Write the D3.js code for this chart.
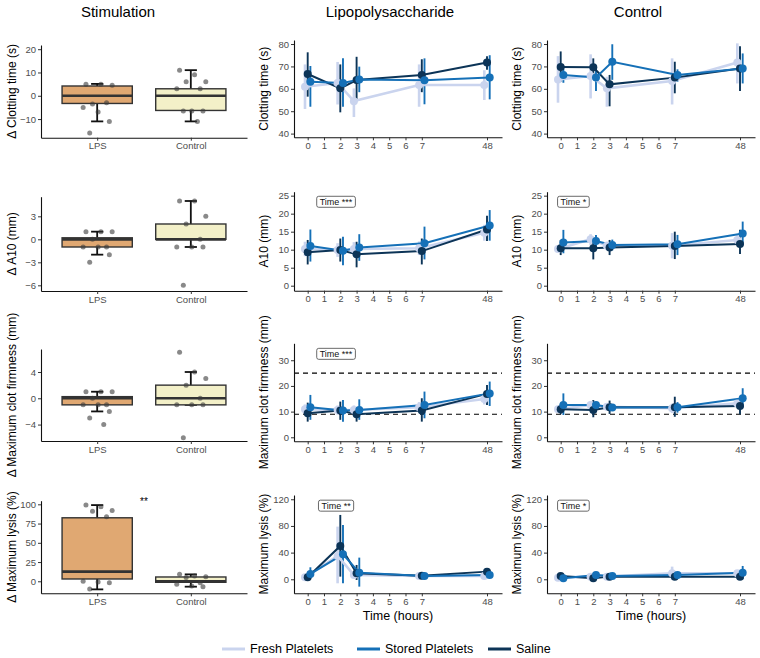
<!DOCTYPE html>
<html><head><meta charset="utf-8">
<script src="https://cdn.jsdelivr.net/npm/d3@7"></script>
<style>body{margin:0;background:#fff;} text{font-family:"Liberation Sans",Arial,Helvetica,sans-serif;}</style>
</head><body><svg id="c" width="760" height="658"></svg>
<script>
// ---------------- DATA ----------------
const columnTitles = ["Stimulation", "Lipopolysaccharide", "Control"];
const groups = ["Fresh Platelets", "Stored Platelets", "Saline"];
const groupColors = ["#cad4ee", "#1570b7", "#0c3457"];
const times = [0, 2, 3, 7, 48];
const timeTicks = [0, 1, 2, 3, 4, 5, 6, 7, 48];
const boxCategories = ["LPS", "Control"];
const boxFills = ["#e0a872", "#f3f0c8"];

const boxYTitles = ["\u0394 Clotting time (s)", "\u0394 A10 (mm)", "\u0394 Maximum clot firmness (mm)", "\u0394 Maximum lysis (%)"];
const lineYTitles = ["Clotting time (s)", "A10 (mm)", "Maximum clot firmness (mm)", "Maximum lysis (%)"];
const boxYTicks = [[-10, 0, 10, 20], [-6, -3, 0, 3], [-4, 0, 4], [0, 25, 50, 75, 100]];
const lineYTicks = [[40, 50, 60, 70, 80], [0, 5, 10, 15, 20, 25], [0, 10, 20, 30], [0, 40, 80, 120]];
const boxYDomains = [[-18, 21.8], [-6.74, 5.56], [-6.5, 7.5], [-15.6, 104.7]];
const lineYDomains = [[38.35, 81.8], [-1.39, 26.1], [-1.56, 36.6], [-21, 126.4]];

// box stats: [lower whisker, q1, median, q3, upper whisker] for LPS, Control
const boxStatsClot = [[-11, -3.3, 0, 4.2, 5.1], [-11, -6.3, 0, 3, 11]];
const boxStatsA10 = [[-2, -1, 0, 0.2, 1], [-1, 0, 0, 2, 5]];
const boxStatsMCF = [[-2, -1, 0, 0.25, 1], [-1, -1, 0, 2, 4]];
const boxStatsLysis = [[-10.5, 3, 12.5, 82.5, 99], [-7, -1.3, 0, 5.6, 9]];
const boxPointsClot = [[5, 5, 4.5, -3.5, -3, -5, -7, -11, -16], [11, 9, 6, 6, 3, 3, -6.5, -6.5, -6.5, -11]];
const boxPointsA10 = [[1, 1, 1, 0, -1, -1, -1, -2, -3], [5, 5, 3, 2, 0, -1, -1, -1, -6]];
const boxPointsMCF = [[1, 1, 1, 0, -1, -1, -1, -2, -3, -4], [7, 4, 3, 2, 0, -1, -1, -1, -6]];
const boxPointsLysis = [[99, 97, 92, 91, 84, 0, -1, -2, -10], [9, 7, 6, 5, -2, -4, -6, -7]];
const boxSignif = ["", "", "", "**"];

// line panels: rows = [Fresh, Stored, Saline], columns = times
const clotLPSMean = [[60.9, 62.6, 54.5, 61.7, 61.7], [63.2, 62.6, 64.2, 63.8, 65.1], [66.6, 60.2, 63.9, 66.2, 71.8]];
const clotLPSLow = [[51, 53, 47.4, 52, 55], [52, 52, 58.5, 53.1, 55.3], [56.5, 49.5, 55.3, 58.5, 68.5]];
const clotLPSHigh = [[70.9, 72, 60.2, 70.9, 68.3], [70.2, 73.6, 69.9, 73.6, 75], [76.3, 70.9, 74.3, 73.2, 74.5]];
const clotCtlMean = [[64.2, 65.7, 60.2, 63.5, 71.7], [66.2, 65.1, 72.1, 66.2, 69.1], [69.7, 69.6, 62, 65, 69.1]];
const clotCtlLow = [[53.8, 55.7, 52, 53, 62.4], [62.7, 59, 64, 63.2, 62.4], [63.2, 65.4, 52.2, 58, 59]];
const clotCtlHigh = [[74.6, 75.4, 65.4, 73.6, 80.3], [69, 70, 79.9, 68.7, 75.8], [76.7, 73.6, 66.2, 72.1, 79]];

const a10LPSMean = [[10.2, 9.9, 10.2, 10.4, 14.7], [11, 9.7, 10.6, 11.8, 16.7], [9.3, 9.9, 8.7, 9.6, 15.6]];
const a10LPSLow = [[8.2, 8, 8.3, 8.5, 12.5], [6.7, 5.7, 6.9, 7.3, 12.5], [5.9, 6.7, 5.1, 5.9, 12.4]];
const a10LPSHigh = [[12.2, 11.8, 12.1, 12.3, 16.9], [15.6, 13.6, 14.3, 16.4, 21], [12.7, 13.1, 12.2, 13.1, 19.4]];
const a10CtlMean = [[10.2, 12.9, 11.1, 11.1, 12.7], [12, 12.4, 11.3, 11.5, 14.5], [10.4, 10.4, 10.6, 11, 11.6]];
const a10CtlLow = [[9.2, 11.2, 10, 7.6, 11.5], [9, 10.8, 9.8, 8.5, 11.3], [8.5, 7.3, 8.5, 7.4, 8.8]];
const a10CtlHigh = [[11.2, 14.3, 12.2, 14.6, 14], [15.5, 14.1, 12.8, 14.1, 17.8], [12.7, 13.4, 12.7, 15, 15.5]];

const mcfLPSMean = [[10.9, 10.6, 10.6, 11.7, 14.9], [11.7, 10.4, 10.6, 12.6, 17.1], [9.4, 10.4, 9, 10.4, 16.9]];
const mcfLPSLow = [[9, 8.8, 8.8, 9.7, 12.8], [6.8, 6.1, 6.8, 7.4, 12.2], [6.1, 6.8, 6.1, 6.1, 12.6]];
const mcfLPSHigh = [[12.8, 12.4, 12.4, 13.7, 17], [16.5, 14.5, 14.8, 17.8, 21.7], [13.5, 13.9, 11.6, 15.2, 20.4]];
const mcfCtlMean = [[10.9, 12.6, 11.9, 11.3, 13.2], [12.6, 12.6, 11.6, 11.7, 15.2], [10.9, 10.6, 11.7, 11.7, 12.2]];
const mcfCtlLow = [[9.8, 11.2, 10.7, 9.5, 12], [8.7, 11.6, 10.4, 9.6, 11.7], [9, 7.8, 9.1, 8, 9]];
const mcfCtlHigh = [[12, 14, 13.1, 13.1, 14.4], [17.1, 13.6, 12.8, 13.7, 19.1], [12.9, 14.5, 14.3, 15.8, 14.5]];
const mcfRefLines = [9, 25];

const lysLPSMean = [[3, 35, 6.5, 5, 5], [8, 37.5, 10, 5, 6.5], [3, 50, 9, 5.5, 11.5]];
const lysLPSLow = [[0, -6, 2, 2, 2], [1.5, -6, -11, 2, 3.5], [0, 4, -1, 3, 8.5]];
const lysLPSHigh = [[6, 79, 11, 8, 8], [18, 81.5, 32.5, 8, 9.5], [6, 96.5, 21.5, 8, 14.5]];
const lysCtlMean = [[2.5, 4, 4, 9, 9], [1.5, 6.5, 5, 6.5, 10], [5, 1.5, 4, 4, 4]];
const lysCtlLow = [[0.5, 2, 2, -1, 5], [0, 4.5, 3, 4.5, 0], [3, 0, 2, 2, 2]];
const lysCtlHigh = [[4.5, 6, 6, 19, 13], [3, 8.5, 7, 8.5, 20], [7, 3, 6, 6, 6]];

const lpsSignif = ["", "Time ***", "Time ***", "Time **"];
const ctlSignif = ["", "Time *", "", "Time *"];

// ---------------- LAYOUT ----------------
const svg = d3.select("#c");
const colFrames = [[41, 247], [294, 502], [547, 755]];
const boxRows = [[45, 137.7], [196.7, 291], [349, 441], [500.7, 593.3]];
const lineRows = [[40, 137.3], [191.7, 290.7], [343.3, 441.3], [495, 593.3]];
const yTitleX = [12, 264, 517];
const titleX = [118, 390, 638];
const jitter = [-0.12, 0.04, 0.16, -0.05, 0.1, -0.15, 0.01, 0.13, -0.08, 0.07];
const dodge = [-0.165, 0.165, 0];
const drawOrder = [0, 2, 1];
const xPos = t => (t === 48 ? 11 : t);

const boxStats = [boxStatsClot, boxStatsA10, boxStatsMCF, boxStatsLysis];
const boxPoints = [boxPointsClot, boxPointsA10, boxPointsMCF, boxPointsLysis];
const lineData = [
  [[clotLPSMean, clotLPSLow, clotLPSHigh], [clotCtlMean, clotCtlLow, clotCtlHigh]],
  [[a10LPSMean, a10LPSLow, a10LPSHigh], [a10CtlMean, a10CtlLow, a10CtlHigh]],
  [[mcfLPSMean, mcfLPSLow, mcfLPSHigh], [mcfCtlMean, mcfCtlLow, mcfCtlHigh]],
  [[lysLPSMean, lysLPSLow, lysLPSHigh], [lysCtlMean, lysCtlLow, lysCtlHigh]]
];
const signifPos = [[1.74, 0.78], [null, 23.3, 32.5, 110.4]];

function styleAxis(g) {
  g.select(".domain").attr("stroke", "#111").attr("stroke-width", 1.1);
  g.selectAll(".tick line").attr("stroke", "#333").attr("stroke-width", 1);
  g.selectAll(".tick text").attr("fill", "#4d4d4d").style("font-size", "9.5px")
    .style("font-family", '"Liberation Sans",Arial,sans-serif');
}

// column titles
columnTitles.forEach((t, i) => {
  svg.append("text").attr("x", titleX[i]).attr("y", 17).attr("text-anchor", "middle")
    .style("font-size", "15px").attr("fill", "#000").text(t);
});

function yTitle(txt, x, y0, y1) {
  svg.append("text").attr("transform", `translate(${x},${(y0 + y1) / 2}) rotate(-90)`)
    .attr("text-anchor", "middle").attr("dominant-baseline", "central")
    .style("font-size", "12px").attr("fill", "#000").text(txt);
}

// -------- box panels --------
for (let r = 0; r < 4; r++) {
  const [x0, x1] = colFrames[0];
  const [y0, y1] = boxRows[r];
  const x = d3.scaleLinear().domain([0.4, 2.6]).range([x0, x1]);
  const y = d3.scaleLinear().domain(boxYDomains[r]).range([y1, y0]);
  const g = svg.append("g");
  const bw = x(0.375) - x(0);
  const cw = x(0.065) - x(0);
  boxCategories.forEach((cat, i) => {
    const cx = x(i + 1);
    const [lo, q1, med, q3, hi] = boxStats[r][i];
    g.append("line").attr("x1", cx).attr("x2", cx).attr("y1", y(q3)).attr("y2", y(hi)).attr("stroke", "#111").attr("stroke-width", 1.8);
    g.append("line").attr("x1", cx).attr("x2", cx).attr("y1", y(q1)).attr("y2", y(lo)).attr("stroke", "#111").attr("stroke-width", 1.8);
    [lo, hi].forEach(v => g.append("line").attr("x1", cx - cw).attr("x2", cx + cw).attr("y1", y(v)).attr("y2", y(v)).attr("stroke", "#111").attr("stroke-width", 1.8));
    g.append("rect").attr("x", cx - bw).attr("width", 2 * bw).attr("y", y(q3)).attr("height", Math.max(0.5, y(q1) - y(q3)))
      .attr("fill", boxFills[i]).attr("stroke", "#333").attr("stroke-width", 1.4);
    g.append("line").attr("x1", cx - bw).attr("x2", cx + bw).attr("y1", y(med)).attr("y2", y(med)).attr("stroke", "#333").attr("stroke-width", 2.6);
    boxPoints[r][i].forEach((v, k) => {
      g.append("circle").attr("cx", x(i + 1 + jitter[k % jitter.length])).attr("cy", y(v)).attr("r", 2.5)
        .attr("fill", "#3a3a3a").attr("fill-opacity", 0.6);
    });
  });
  if (boxSignif[r]) {
    g.append("text").attr("x", x(1.5)).attr("y", y(103.4)).attr("text-anchor", "middle").attr("dominant-baseline", "central")
      .style("font-size", "10px").attr("fill", "#000").text(boxSignif[r]);
  }
  const ay = svg.append("g").attr("transform", `translate(${x0},0)`)
    .call(d3.axisLeft(y).tickValues(boxYTicks[r]).tickSize(3).tickSizeOuter(0).tickPadding(2));
  styleAxis(ay);
  const ax = svg.append("g").attr("transform", `translate(0,${y1})`)
    .call(d3.axisBottom(x).tickValues([1, 2]).tickFormat(d => boxCategories[d - 1]).tickSize(3).tickSizeOuter(0).tickPadding(2));
  styleAxis(ax);
  yTitle(boxYTitles[r], yTitleX[0], y0, y1);
}

// -------- line panels --------
for (let r = 0; r < 4; r++) {
  for (let c = 0; c < 2; c++) {
    const [x0, x1] = colFrames[c + 1];
    const [y0, y1] = lineRows[r];
    const x = d3.scaleLinear().domain([-0.84, 11.92]).range([x0, x1]);
    const y = d3.scaleLinear().domain(lineYDomains[r]).range([y1, y0]);
    const g = svg.append("g");
    const [means, lows, highs] = lineData[r][c];
    if (r === 2) {
      mcfRefLines.forEach(v => g.append("line").attr("x1", x0).attr("x2", x1).attr("y1", y(v)).attr("y2", y(v))
        .attr("stroke", "#000").attr("stroke-width", 1.1).attr("stroke-dasharray", "5,4"));
    }
    drawOrder.forEach(gi => {
      times.forEach((t, k) => {
        g.append("line").attr("x1", x(xPos(t) + dodge[gi])).attr("x2", x(xPos(t) + dodge[gi]))
          .attr("y1", y(lows[gi][k])).attr("y2", y(highs[gi][k]))
          .attr("stroke", groupColors[gi]).attr("stroke-width", gi === 0 ? 2.6 : 1.9);
      });
    });
    drawOrder.forEach(gi => {
      const ln = d3.line().x((d, k) => x(xPos(times[k]) + dodge[gi])).y(d => y(d));
      g.append("path").attr("d", ln(means[gi])).attr("fill", "none")
        .attr("stroke", groupColors[gi]).attr("stroke-width", gi === 0 ? 2.6 : 2);
    });
    drawOrder.forEach(gi => {
      times.forEach((t, k) => {
        g.append("circle").attr("cx", x(xPos(t) + dodge[gi])).attr("cy", y(means[gi][k])).attr("r", 4)
          .attr("fill", groupColors[gi]);
      });
    });
    const sig = (c === 0 ? lpsSignif : ctlSignif)[r];
    if (sig) {
      const lx = x(signifPos[0][c]), ly = y(signifPos[1][r]);
      const t = g.append("text").attr("x", lx).attr("y", ly).attr("text-anchor", "middle").attr("dominant-baseline", "central")
        .style("font-size", "9px").attr("fill", "#111").text(sig);
      const w = t.node().getComputedTextLength() + 6;
      g.insert("rect", "text").attr("x", lx - w / 2).attr("y", ly - 5.5).attr("width", w).attr("height", 11)
        .attr("rx", 2).attr("fill", "#fff").attr("stroke", "#444").attr("stroke-width", 0.8);
    }
    const ay = svg.append("g").attr("transform", `translate(${x0},0)`)
      .call(d3.axisLeft(y).tickValues(lineYTicks[r]).tickSize(3).tickSizeOuter(0).tickPadding(2));
    styleAxis(ay);
    const ax = svg.append("g").attr("transform", `translate(0,${y1})`)
      .call(d3.axisBottom(x).tickValues(timeTicks.map(xPos)).tickFormat((d, i) => String(timeTicks[i])).tickSize(3).tickSizeOuter(0).tickPadding(2));
    styleAxis(ax);
    yTitle(lineYTitles[r], yTitleX[c + 1], y0, y1);
    if (r === 3) {
      svg.append("text").attr("x", (x0 + x1) / 2).attr("y", 616).attr("text-anchor", "middle").attr("dominant-baseline", "central")
        .style("font-size", "12.5px").attr("fill", "#000").text("Time (hours)");
    }
  }
}

// -------- legend --------
const legendX = [222, 357, 488];
groups.forEach((gname, i) => {
  svg.append("line").attr("x1", legendX[i]).attr("x2", legendX[i] + 23).attr("y1", 649).attr("y2", 649)
    .attr("stroke", groupColors[i]).attr("stroke-width", 3);
  svg.append("text").attr("x", legendX[i] + 28).attr("y", 649).attr("dominant-baseline", "central")
    .style("font-size", "12.5px").attr("fill", "#000").text(gname);
});
</script></body></html>
